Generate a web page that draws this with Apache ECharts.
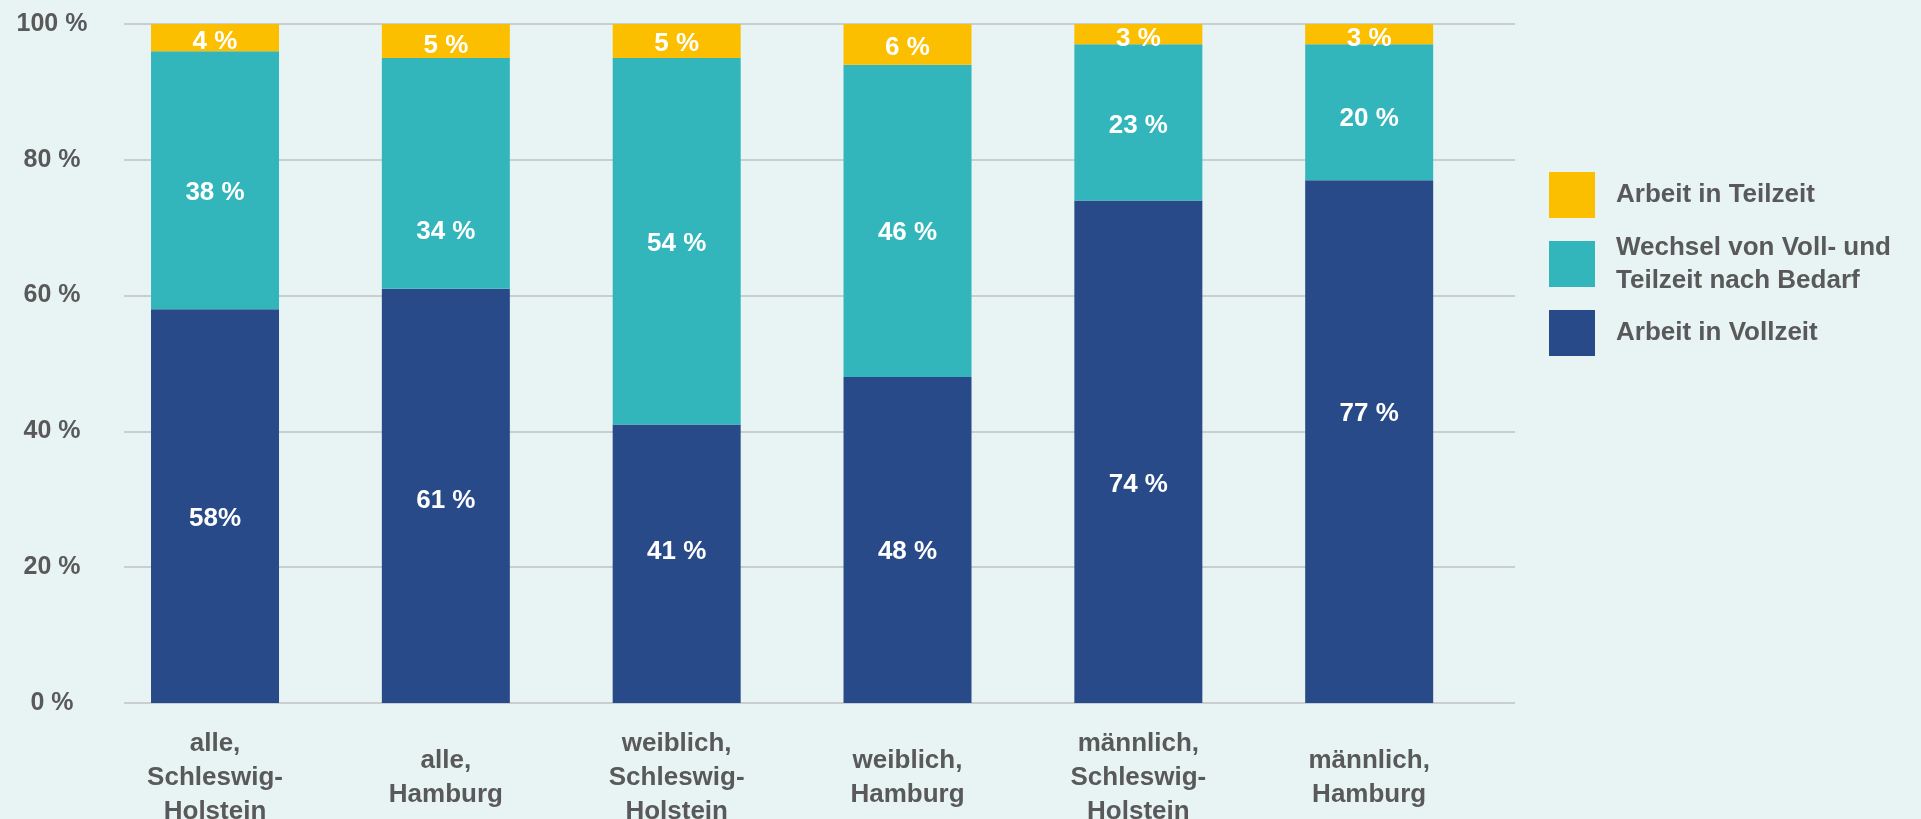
<!DOCTYPE html>
<html>
<head>
<meta charset="utf-8">
<style>
  html, body { margin: 0; padding: 0; background: #E8F4F4; }
  #chart { width: 1921px; height: 819px; }
</style>
<script src="https://cdn.jsdelivr.net/npm/echarts@6/dist/echarts.min.js"></script>
</head>
<body>
<div id="chart"></div>
<script>
const categories = [
  'alle,\nSchleswig-\nHolstein',
  'alle,\nHamburg',
  'weiblich,\nSchleswig-\nHolstein',
  'weiblich,\nHamburg',
  'männlich,\nSchleswig-\nHolstein',
  'männlich,\nHamburg'
];
const vollzeit = [58, 61, 41, 48, 74, 77];
const wechsel = [38, 34, 54, 46, 23, 20];
const teilzeit = [4, 5, 5, 6, 3, 3];
const yTicks = [0, 20, 40, 60, 80, 100];
const seriesNames = ['Arbeit in Vollzeit', 'Wechsel von Voll- und Teilzeit nach Bedarf', 'Arbeit in Teilzeit'];

// vertical nudges of the value labels inside the segments (px), as placed in the original
const labelShiftVoll = [13, 5, -12, 12, 33, -28];
const labelShiftWechsel = [13, 58, 3, 12, 3, 7];
const labelShiftTeil = [4, 5, 3, 3, 5, 5];

const colors = { voll: '#294A88', wechsel: '#32B6BC', teil: '#FBBF00' };
const textColor = '#595959';
const font = "'Liberation Sans', Arial, sans-serif";

const chart = echarts.init(document.getElementById('chart'));

function labelFmt(p) {
  const sep = (p.seriesIndex === 0 && p.dataIndex === 0) ? '' : ' ';
  return p.value + sep + '%';
}
const barLabel = {
  show: true, position: 'inside', color: '#fff', fontSize: 26, fontWeight: 'bold',
  fontFamily: font, formatter: labelFmt
};
function withShift(values, shifts) {
  return values.map((v, i) => ({ value: v, label: { offset: [0, shifts[i]] } }));
}

function legendAt(name, top) {
  return {
    data: [name], left: 1549, top: top, orient: 'vertical', padding: 0,
    icon: 'rect', itemWidth: 46, itemHeight: 46, selectedMode: false,
    formatter: n => n === seriesNames[1] ? 'Wechsel von Voll- und\nTeilzeit nach Bedarf' : n,
    textStyle: { color: textColor, fontSize: 26, fontWeight: 'bold', fontFamily: font, lineHeight: 33, padding: [0, 0, 0, 16] }
  };
}

chart.setOption({
  backgroundColor: '#E8F4F4',
  animation: false,
  legend: [
    legendAt(seriesNames[2], 172),
    legendAt(seriesNames[1], 231),
    legendAt(seriesNames[0], 310)
  ],
  grid: [
    { left: 124, width: 1391, top: 24, height: 679, outerBoundsMode: 'none', containLabel: false },
    { left: 99.6, width: 1385, top: 24, height: 679, outerBoundsMode: 'none', containLabel: false }
  ],
  xAxis: [
    { gridIndex: 0, type: 'value', min: 0, max: 1, show: true,
      axisLine: { show: false }, axisTick: { show: false }, axisLabel: { show: false }, splitLine: { show: false } },
    { gridIndex: 1, type: 'category', data: categories,
      axisLine: { show: false }, axisTick: { show: false },
      axisLabel: { color: textColor, fontSize: 26, fontWeight: 'bold', fontFamily: font, lineHeight: 34,
        verticalAlign: 'middle', margin: 75, interval: 0 } }
  ],
  yAxis: [
    { gridIndex: 0, type: 'value', min: yTicks[0], max: yTicks[yTicks.length - 1], interval: 20,
      axisLine: { show: false }, axisTick: { show: false },
      axisLabel: { color: textColor, fontSize: 25, fontWeight: 'bold', fontFamily: font, align: 'center', margin: 72,
        formatter: '{value} %' },
      splitLine: { show: true, lineStyle: { color: '#BFC2C2', width: 1.5 } } },
    { gridIndex: 1, type: 'value', min: 0, max: 100, show: false, splitLine: { show: false } }
  ],
  series: [
    { name: seriesNames[0], type: 'bar', stack: 's', xAxisIndex: 1, yAxisIndex: 1, barWidth: 128,
      itemStyle: { color: colors.voll }, label: barLabel, data: withShift(vollzeit, labelShiftVoll) },
    { name: seriesNames[1], type: 'bar', stack: 's', xAxisIndex: 1, yAxisIndex: 1, barWidth: 128,
      itemStyle: { color: colors.wechsel }, label: barLabel, data: withShift(wechsel, labelShiftWechsel) },
    { name: seriesNames[2], type: 'bar', stack: 's', xAxisIndex: 1, yAxisIndex: 1, barWidth: 128,
      itemStyle: { color: colors.teil }, label: barLabel, data: withShift(teilzeit, labelShiftTeil) }
  ]
});
</script>
</body>
</html>
